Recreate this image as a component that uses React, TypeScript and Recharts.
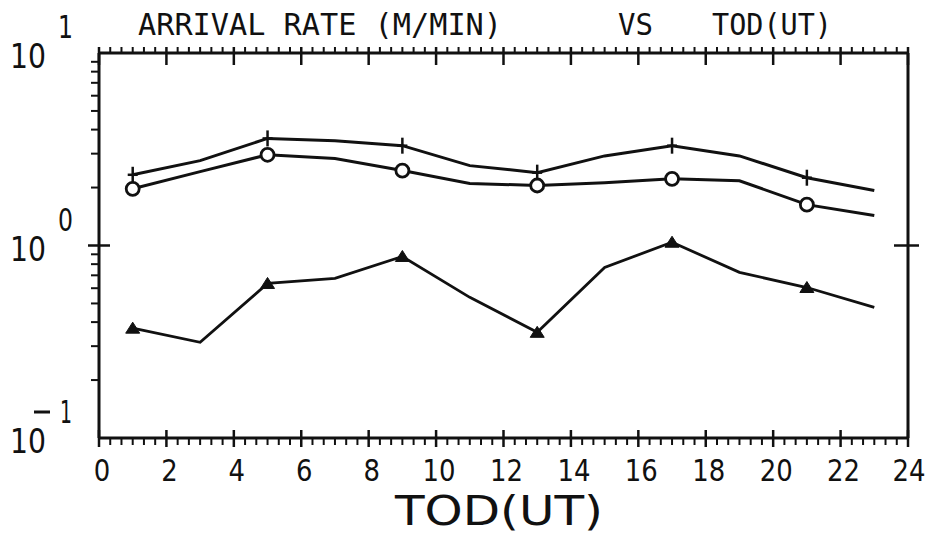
import React from 'react'
import { LineChart, Line, XAxis, YAxis } from 'recharts'

// arrival rate (M/MIN) vs time of day, three series
const hours = [1, 3, 5, 7, 9, 11, 13, 15, 17, 19, 21, 23]
const plusRate = [2.33, 2.76, 3.6, 3.5, 3.3, 2.6, 2.39, 2.92, 3.3, 2.92, 2.25, 1.93]
const circleRate = [1.97, 2.42, 2.96, 2.83, 2.45, 2.1, 2.05, 2.12, 2.22, 2.17, 1.63, 1.43]
const triangleRate = [0.372, 0.314, 0.635, 0.675, 0.877, 0.538, 0.354, 0.769, 1.04, 0.725, 0.605, 0.477]
const markerHours = [1, 5, 9, 13, 17, 21]

const xTickLabels = ['0', '2', '4', '6', '8', '10', '12', '14', '16', '18', '20', '22', '24']
const xTicks = Array.from({ length: 73 }, (_, i) => i / 3)
const yTicks = [
  0.1, 0.2, 0.3, 0.4, 0.5, 0.6, 0.7, 0.8, 0.9,
  1, 2, 3, 4, 5, 6, 7, 8, 9, 10,
]
const decadeExp: Record<string, string> = { '0.1': '-1', '1': '0', '10': '1' }

const data = hours.map((h, i) => ({
  h,
  plus: plusRate[i],
  circle: circleRate[i],
  tri: triangleRate[i],
}))

const INK = '#111'
const FONT = '"DejaVu Sans", sans-serif'

const isMajorX = (v: number) => Math.round(v * 3) % 6 === 0

function BottomTick(props: any) {
  const { x, y, payload } = props
  const v = payload.value
  if (!isMajorX(v)) {
    return <line x1={x} x2={x} y1={y + 1} y2={y + 7} stroke={INK} strokeWidth={2} />
  }
  const label = xTickLabels[Math.round(v / 2)]
  return (
    <g>
      <line x1={x} x2={x} y1={y - 8} y2={y + 9} stroke={INK} strokeWidth={2.5} />
      <text
        x={v === 24 ? x + 1 : x + 3}
        y={y + 43}
        textAnchor="middle"
        fontFamily={FONT}
        fontSize={31}
        textLength={label.length * 16.5}
        lengthAdjust="spacingAndGlyphs"
        fill={INK}
      >
        {label}
      </text>
    </g>
  )
}

function TopTick(props: any) {
  const { x, y, payload } = props
  const v = payload.value
  if (!isMajorX(v)) {
    return <line x1={x} x2={x} y1={y - 6} y2={y} stroke={INK} strokeWidth={2} />
  }
  return <line x1={x} x2={x} y1={y - 6} y2={y + 12} stroke={INK} strokeWidth={2.5} />
}

function LeftTick(props: any) {
  const { x, y, payload } = props
  const v = payload.value
  const exp = decadeExp[String(v)]
  if (exp === undefined) {
    return <line x1={x - 8} x2={x} y1={y} y2={y} stroke={INK} strokeWidth={2} />
  }
  const neg = exp.startsWith('-')
  return (
    <g fill={INK} fontFamily={FONT}>
      {v === 1 && <line x1={x - 11} x2={x + 11} y1={y} y2={y} stroke={INK} strokeWidth={2.5} />}
      <text x={10} y={y + 15} fontSize={33} textLength={36} lengthAdjust="spacingAndGlyphs">
        10
      </text>
      {neg && <line x1={34} x2={50} y1={y - 26} y2={y - 26} stroke={INK} strokeWidth={3} />}
      <text
        x={neg ? 60 : 58}
        y={y - 15}
        fontSize={32}
        textLength={neg ? 12 : 15}
        lengthAdjust="spacingAndGlyphs"
      >
        {neg ? '1' : exp}
      </text>
    </g>
  )
}

function RightTick(props: any) {
  const { x, y } = props
  return <line x1={x - 14} x2={x + 11} y1={y} y2={y} stroke={INK} strokeWidth={2.5} />
}

const showMarker = (h: number) => markerHours.includes(h)

function PlusDot(props: any) {
  const { cx, cy, payload, index } = props
  if (!showMarker(payload.h)) return <g key={index} />
  return (
    <g key={index} stroke={INK} strokeWidth={2.5}>
      <line x1={cx} x2={cx} y1={cy - 8} y2={cy + 8} />
      <line x1={cx - 5} x2={cx + 5} y1={cy} y2={cy} />
    </g>
  )
}

function CircleDot(props: any) {
  const { cx, cy, payload, index } = props
  if (!showMarker(payload.h)) return <g key={index} />
  return <circle key={index} cx={cx} cy={cy} r={6.5} fill="#fff" stroke={INK} strokeWidth={2.8} />
}

function TriangleDot(props: any) {
  const { cx, cy, payload, index } = props
  if (!showMarker(payload.h)) return <g key={index} />
  return (
    <polygon
      key={index}
      points={`${cx},${cy - 6} ${cx - 7},${cy + 5} ${cx + 7},${cy + 5}`}
      fill={INK}
      stroke={INK}
      strokeWidth={1}
    />
  )
}

export default function App() {
  return (
    <div style={{ position: 'absolute', left: 0, top: 0, width: 935, height: 535, background: '#fff' }}>
      <LineChart
        width={935}
        height={535}
        data={data}
        margin={{ top: 52, right: 26, bottom: 0, left: 0 }}
      >
        <XAxis
          xAxisId="b"
          dataKey="h"
          type="number"
          domain={[0, 24]}
          allowDataOverflow
          ticks={xTicks}
          interval={0}
          height={97}
          tickSize={0}
          tickMargin={0}
          tickLine={false}
          axisLine={{ stroke: INK, strokeWidth: 3 }}
          tick={<BottomTick />}
        />
        <XAxis
          xAxisId="t"
          orientation="top"
          dataKey="h"
          type="number"
          domain={[0, 24]}
          allowDataOverflow
          ticks={xTicks}
          interval={0}
          height={1}
          tickSize={0}
          tickMargin={0}
          tickLine={false}
          axisLine={{ stroke: INK, strokeWidth: 3 }}
          tick={<TopTick />}
        />
        <YAxis
          yAxisId="l"
          scale="log"
          type="number"
          domain={[0.1, 10]}
          allowDataOverflow
          ticks={yTicks}
          interval={0}
          width={99}
          tickSize={0}
          tickMargin={0}
          tickLine={false}
          axisLine={{ stroke: INK, strokeWidth: 3 }}
          tick={<LeftTick />}
        />
        <YAxis
          yAxisId="r"
          orientation="right"
          scale="log"
          type="number"
          domain={[0.1, 10]}
          allowDataOverflow
          ticks={[1]}
          interval={0}
          width={1}
          tickSize={0}
          tickMargin={0}
          tickLine={false}
          axisLine={{ stroke: INK, strokeWidth: 3 }}
          tick={<RightTick />}
        />
        <Line
          xAxisId="b"
          yAxisId="l"
          dataKey="plus"
          stroke={INK}
          strokeWidth={3}
          dot={<PlusDot />}
          isAnimationActive={false}
        />
        <Line
          xAxisId="b"
          yAxisId="l"
          dataKey="circle"
          stroke={INK}
          strokeWidth={3}
          dot={<CircleDot />}
          isAnimationActive={false}
        />
        <Line
          xAxisId="t"
          yAxisId="r"
          dataKey="tri"
          stroke={INK}
          strokeWidth={2.8}
          dot={<TriangleDot />}
          isAnimationActive={false}
        />
      </LineChart>
      <svg
        width={935}
        height={535}
        style={{ position: 'absolute', left: 0, top: 0, pointerEvents: 'none' }}
      >
        <g fill={INK} fontFamily='"DejaVu Sans Mono", monospace' fontSize={30}>
          <text x={138} y={35} textLength={364} lengthAdjust="spacingAndGlyphs">
            ARRIVAL RATE (M/MIN)
          </text>
          <text x={618} y={35} textLength={35} lengthAdjust="spacingAndGlyphs">
            VS
          </text>
          <text x={712} y={35} textLength={120} lengthAdjust="spacingAndGlyphs">
            TOD(UT)
          </text>
        </g>
        <text
          x={395}
          y={525}
          fill={INK}
          fontFamily={FONT}
          fontSize={40}
          textLength={208}
          lengthAdjust="spacingAndGlyphs"
        >
          TOD(UT)
        </text>
      </svg>
    </div>
  )
}
